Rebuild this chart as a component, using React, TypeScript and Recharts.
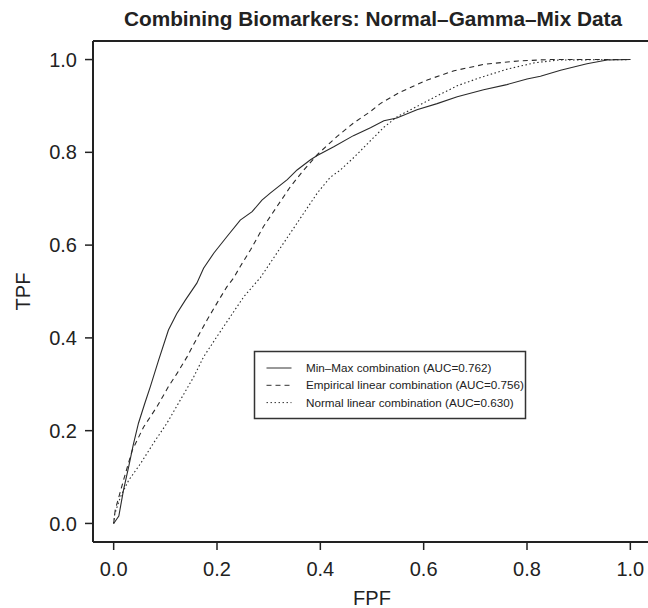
import React from 'react';
import { LineChart, Line, XAxis, YAxis, ReferenceLine } from 'recharts';

const fpfTicks = [0, 0.2, 0.4, 0.6, 0.8, 1.0];
const tpfTicks = [0, 0.2, 0.4, 0.6, 0.8, 1.0];

const seriesNames = [
  'Min\u2013Max combination (AUC=0.762)',
  'Empirical linear combination (AUC=0.756)',
  'Normal linear combination (AUC=0.630)',
];

// Min-Max combination (solid)
const minMaxFpf = [0, 0.005, 0.01, 0.019, 0.029, 0.038, 0.048, 0.06, 0.071, 0.087, 0.106, 0.122, 0.139, 0.161, 0.174, 0.194, 0.219, 0.245, 0.268, 0.287, 0.303, 0.336, 0.355, 0.381, 0.394, 0.426, 0.464, 0.497, 0.523, 0.548, 0.587, 0.626, 0.665, 0.716, 0.761, 0.8, 0.826, 0.865, 0.916, 0.955, 1.0];
const minMaxTpf = [0, 0.008, 0.016, 0.072, 0.122, 0.17, 0.216, 0.258, 0.295, 0.352, 0.417, 0.452, 0.482, 0.518, 0.55, 0.583, 0.618, 0.654, 0.672, 0.697, 0.712, 0.741, 0.762, 0.784, 0.793, 0.812, 0.836, 0.853, 0.868, 0.874, 0.892, 0.905, 0.92, 0.935, 0.946, 0.958, 0.964, 0.977, 0.991, 0.999, 1.0];

// Empirical linear combination (dashed)
const empiricalFpf = [0, 0.003, 0.019, 0.036, 0.058, 0.084, 0.106, 0.123, 0.142, 0.161, 0.181, 0.2, 0.219, 0.232, 0.245, 0.265, 0.29, 0.316, 0.342, 0.368, 0.394, 0.432, 0.464, 0.497, 0.516, 0.555, 0.607, 0.659, 0.718, 0.783, 0.842, 1.0];
const empiricalTpf = [0, 0.029, 0.093, 0.158, 0.208, 0.252, 0.295, 0.324, 0.359, 0.399, 0.439, 0.475, 0.51, 0.529, 0.554, 0.59, 0.64, 0.683, 0.726, 0.762, 0.795, 0.834, 0.863, 0.888, 0.905, 0.93, 0.956, 0.976, 0.99, 0.997, 1.0, 1.0];

// Normal linear combination (dotted)
const normalFpf = [0, 0.002, 0.013, 0.029, 0.052, 0.077, 0.103, 0.129, 0.155, 0.174, 0.2, 0.226, 0.252, 0.284, 0.316, 0.342, 0.368, 0.394, 0.419, 0.439, 0.465, 0.497, 0.523, 0.549, 0.582, 0.621, 0.666, 0.712, 0.764, 0.815, 0.861, 1.0];
const normalTpf = [0, 0.02, 0.057, 0.093, 0.129, 0.173, 0.216, 0.266, 0.316, 0.359, 0.403, 0.446, 0.489, 0.53, 0.583, 0.626, 0.669, 0.712, 0.746, 0.762, 0.789, 0.825, 0.854, 0.877, 0.896, 0.919, 0.944, 0.962, 0.98, 0.993, 0.999, 1.0];

const toPoints = (fpf: number[], tpf: number[]) => fpf.map((x, i) => ({ fpf: x, tpf: tpf[i] }));

const font = "'Liberation Sans', Arial, Helvetica, sans-serif";
const ink = '#222';
const dashes = [undefined, '5 4', '1.5 2.5'];

const App: React.FC = () => {
  const series = [
    toPoints(minMaxFpf, minMaxTpf),
    toPoints(empiricalFpf, empiricalTpf),
    toPoints(normalFpf, normalTpf),
  ];

  // fixed to the viewport so the plot box can run past the right edge like the original
  return (
    <div style={{ position: 'fixed', left: 0, top: 0, width: 648, height: 608, overflow: 'hidden', background: '#fff' }}>
      <LineChart width={668} height={608} margin={{ top: 41, right: 17, left: 0, bottom: 0 }}>
        <XAxis
          dataKey="fpf"
          type="number"
          domain={[-0.04, 1.04]}
          ticks={fpfTicks}
          allowDataOverflow
          height={66}
          tickFormatter={(v: number) => v.toFixed(1)}
          tick={{ fill: ink, fontSize: 20, fontFamily: font }}
          tickSize={8}
          tickMargin={12}
          axisLine={{ stroke: ink, strokeWidth: 2 }}
          tickLine={{ stroke: ink, strokeWidth: 1.5 }}
        />
        <YAxis
          dataKey="tpf"
          type="number"
          domain={[-0.04, 1.04]}
          ticks={tpfTicks}
          allowDataOverflow
          width={93}
          tickFormatter={(v: number) => v.toFixed(1)}
          tick={{ fill: ink, fontSize: 20, fontFamily: font }}
          tickSize={8}
          tickMargin={8}
          axisLine={{ stroke: ink, strokeWidth: 2 }}
          tickLine={{ stroke: ink, strokeWidth: 1.5 }}
        />
        <ReferenceLine y={1.04} stroke={ink} strokeWidth={2} />
        <ReferenceLine x={1.04} stroke={ink} strokeWidth={2} />
        {series.map((data, i) => (
          <Line
            key={seriesNames[i]}
            data={data}
            dataKey="tpf"
            name={seriesNames[i]}
            type="linear"
            stroke="#2a2a2a"
            strokeWidth={1.1}
            strokeDasharray={dashes[i]}
            dot={false}
            isAnimationActive={false}
          />
        ))}

        <text x={373} y={26} textAnchor="middle" fontFamily={font} fontSize={20.8} fontWeight="bold" fill={ink}>
          Combining Biomarkers: Normal{'\u2013'}Gamma{'\u2013'}Mix Data
        </text>
        <text x={372} y={605} textAnchor="middle" fontFamily={font} fontSize={20} fill={ink}>
          FPF
        </text>
        <text
          x={22.5}
          y={291.5}
          dy="0.35em"
          textAnchor="middle"
          transform="rotate(-90, 22.5, 291.5)"
          fontFamily={font}
          fontSize={20}
          fill={ink}
        >
          TPF
        </text>

        <g>
          <rect x={254.5} y={351.5} width={271} height={67} fill="#fff" stroke="#333" strokeWidth={1.5} />
          {seriesNames.map((name, i) => (
            <g key={name}>
              <line
                x1={266.5}
                x2={291.5}
                y1={368 + i * 17.3}
                y2={368 + i * 17.3}
                stroke="#333"
                strokeWidth={1}
                strokeDasharray={dashes[i]}
              />
              <text x={306} y={368 + i * 17.3} dy="0.35em" fontFamily={font} fontSize={11.7} fill={ink}>
                {name}
              </text>
            </g>
          ))}
        </g>
      </LineChart>
    </div>
  );
};

export default App;
